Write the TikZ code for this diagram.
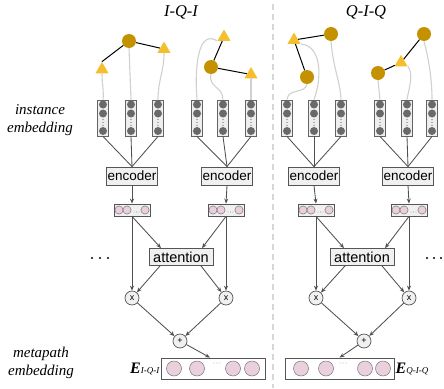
\documentclass[tikz,border=0pt]{standalone}
\usepackage{fontspec}
\setmainfont{Liberation Serif}
\newfontfamily\sansf{Liberation Sans}
\usetikzlibrary{shapes.geometric,arrows.meta}
\definecolor{qgold}{RGB}{196,146,0}
\definecolor{tyel}{RGB}{244,190,44}
\definecolor{colf}{RGB}{238,238,238}
\definecolor{colb}{RGB}{100,100,100}
\definecolor{dotg}{RGB}{105,105,105}
\definecolor{boxf}{RGB}{240,240,240}
\definecolor{boxb}{RGB}{85,85,85}
\definecolor{arrg}{RGB}{80,80,80}
\definecolor{curveg}{RGB}{208,208,208}
\definecolor{pinkf}{RGB}{233,208,220}
\definecolor{pinkb}{RGB}{120,120,120}
\definecolor{dashg}{RGB}{215,215,215}
\begin{document}
\begin{tikzpicture}[x=1pt,y=-1pt,
  colbox/.style={draw=colb,fill=colf,line width=0.9pt,minimum width=10.5pt,minimum height=36pt,inner sep=0pt},
  qnode/.style={circle,fill=qgold,minimum size=14pt,inner sep=0pt},
  tnode/.style={regular polygon,regular polygon sides=3,fill=tyel,minimum size=15pt,inner sep=0pt},
  encbox/.style={draw=boxb,fill=boxf,line width=0.8pt,minimum width=50pt,minimum height=18pt,inner sep=1pt,font=\sansf\fontsize{13.5}{14}\selectfont},
  attbox/.style={draw=boxb,fill=boxf,line width=0.8pt,minimum width=64pt,minimum height=17pt,inner sep=1pt,font=\sansf\fontsize{14.5}{15}\selectfont},
  sbox/.style={draw=boxb,fill=boxf,line width=0.8pt,minimum width=36pt,minimum height=12pt,inner sep=0pt},
  mbox/.style={draw=boxb,fill=white,line width=0.8pt,minimum height=21pt,inner sep=0pt},
  opnode/.style={circle,draw=boxb,fill=boxf,line width=0.7pt,minimum size=14pt,inner sep=0pt,font=\sansf\fontsize{9}{9}\selectfont},
  arr/.style={-{Stealth[length=5pt,width=4pt]},draw=arrg,line width=0.85pt},
  ln/.style={draw=arrg,line width=0.85pt},
  gcurve/.style={draw=curveg,line width=1.1pt},
  blk/.style={draw=black,line width=1pt},
  pinkc/.style={fill=pinkf,draw=pinkb,line width=0.5pt},
  sidelabel/.style={font=\fontsize{15}{18}\selectfont\itshape,align=center},
  title/.style={font=\fontsize{16.5}{18}\selectfont\itshape}
]
\useasboundingbox (0,0) rectangle (444,388);
% dashed separator
\coordinate (dtop) at (273,4);
\coordinate (dbot) at (273,388);
\draw[dashg,line width=1.2pt,dash pattern=on 6pt off 4pt] (dtop) -- (dbot);
% titles
\node[title] (ttl1) at (181,12) {I-Q-I};
\node[title] (ttl2) at (366,12) {Q-I-Q};
% side labels
\node[sidelabel] (lab1) at (40,120) {instance\\embedding};
\node[sidelabel] (lab2) at (41,363) {metapath\\embedding};
% columns
\foreach \i/\cx in {1/103,2/131,3/158,4/197,5/223,6/251,7/287,8/314,9/341,10/380,11/407,12/432} {
  \node[colbox] (c\i) at (\cx,118) {};
  \fill[dotg] (\cx,104.5) circle (4pt);
  \fill[dotg] (\cx,113.5) circle (4pt);
  \fill[dotg] (\cx,119.5) circle (0.6pt);
  \fill[dotg] (\cx,122.5) circle (0.6pt);
  \fill[dotg] (\cx,125.5) circle (0.6pt);
  \fill[dotg] (\cx,131) circle (4pt);
}
% top graphs
\node[qnode] (q1) at (129,41) {};
\node[tnode] (t1) at (102,69.5) {};
\node[tnode] (t2) at (164,49) {};
\node[qnode] (q2) at (211,67) {};
\node[tnode] (t3) at (224,37) {};
\node[tnode] (t4) at (251,74.5) {};
\node[qnode] (q3) at (331,34) {};
\node[qnode] (q4) at (307,77) {};
\node[tnode] (t5) at (294,40) {};
\node[qnode] (q5) at (378,73) {};
\node[tnode] (t6) at (401,62.5) {};
\node[qnode] (q6) at (424,34) {};
\draw[blk] (q1) -- (t1.corner 1);
\draw[blk] (q1) -- (t2);
\draw[blk] (q2) -- (t3);
\draw[blk] (q2) -- (t4);
\draw[blk] (t5) -- (q3);
\draw[blk] (t5) -- (q4);
\draw[blk] (q5) -- (t6);
\draw[blk] (t6) -- (q6);
% gray curves
\draw[gcurve] (t1.south) .. controls (102,85) and (104,90) .. (c1.north);
\draw[gcurve] (q1.south) -- (c2.north);
\draw[gcurve] (t2.south) .. controls (164,72) and (158,80) .. (c3.north);
\draw[gcurve] (t3.corner 2) .. controls (200,30) and (194,60) .. (c4.north);
\draw[gcurve] (q2.south) .. controls (208,88) and (223,86) .. (c5.north);
\draw[gcurve] (t4.south) -- (c6.north);
\draw[gcurve] (q4.south) .. controls (305,94) and (288,88) .. (c7.north);
\draw[gcurve] (t5.corner 3) .. controls (322,46) and (322,78) .. (c8.north);
\draw[gcurve] (q3.south) .. controls (333,68) and (340,80) .. (c9.north);
\draw[gcurve] (q5.south) -- (c10.north);
\draw[gcurve] (t6.corner 3) .. controls (414,74) and (409,88) .. (c11.north);
\draw[gcurve] (q6.south) .. controls (429,60) and (432,80) .. (c12.north);
% encoders
\node[encbox] (e1) at (132,176) {encoder};
\node[encbox] (e2) at (227,176) {encoder};
\node[encbox] (e3) at (314,176) {encoder};
\node[encbox] (e4) at (408,176) {encoder};
\foreach \c/\e in {1/1,2/1,3/1,4/2,5/2,6/2,7/3,8/3,9/3,10/4,11/4,12/4}
  \draw[ln] (c\c.south) -- (e\e.north);
% small embedding boxes
\foreach \i/\cx in {1/132,2/226,3/316,4/409} {
  \node[sbox] (s\i) at (\cx,210) {};
  \foreach \dx in {-13,-5,13} \draw[pinkc] (\cx+\dx,210) circle (4.1pt);
  \foreach \dx in {2,4.5,7} \fill[arrg] (\cx+\dx,212) circle (0.45pt);
  \draw[arr] (e\i.south) -- (s\i.north);
}
% attention
\node[attbox] (a1) at (181,257) {attention};
\node[attbox] (a2) at (362,257) {attention};
% op nodes
\node[opnode] (x1) at (132,298) {x};
\node[opnode] (x2) at (226,298) {x};
\node[opnode] (x3) at (316,298) {x};
\node[opnode] (x4) at (409,298) {x};
\node[opnode] (p1) at (180,341) {+};
\node[opnode] (p2) at (364,341) {+};
% arrows left
\draw[arr] (s1.south) -- (x1.north);
\draw[arr] (s2.south) -- (x2.north);
\draw[arr] (s1.south) -- ([xshift=-20pt]a1.north);
\draw[arr] (s2.south) -- ([xshift=21pt]a1.north);
\draw[arr] ([xshift=-21pt]a1.south) -- (x1);
\draw[arr] ([xshift=20pt]a1.south) -- (x2);
\draw[arr] (x1) -- (p1);
\draw[arr] (x2) -- (p1);
% arrows right
\draw[arr] (s3.south) -- (x3.north);
\draw[arr] (s4.south) -- (x4.north);
\draw[arr] (s3.south) -- ([xshift=-18pt]a2.north);
\draw[arr] (s4.south) -- ([xshift=23pt]a2.north);
\draw[arr] ([xshift=-17pt]a2.south) -- (x3);
\draw[arr] ([xshift=20pt]a2.south) -- (x4);
\draw[arr] (x3) -- (p2);
\draw[arr] (x4) -- (p2);
% metapath boxes
\node[mbox,minimum width=104pt] (m1) at (213,368.5) {};
\node[mbox,minimum width=109pt] (m2) at (339.5,368.5) {};
\foreach \cx in {174,197,233,252} \draw[pinkc] (\cx,368.5) circle (7.5pt);
\foreach \cx in {301,326,365,383} \draw[pinkc] (\cx,368.5) circle (7.5pt);
\foreach \cx in {214,217,220} \fill[arrg] (\cx,363) circle (0.45pt);
\foreach \cx in {340,343,346} \fill[arrg] (\cx,363) circle (0.45pt);
\draw[arr] (p1) -- ([xshift=-3pt]m1.north);
\draw[arr] (p2) -- (m2.north);
% E labels
\node[anchor=east,inner sep=1pt] (E1) at (m1.west) {\fontsize{16}{16}\selectfont\bfseries\itshape E\fontsize{9}{9}\selectfont\mdseries\itshape I-Q-I};
\node[anchor=west,inner sep=1pt] (E2) at (m2.east) {\fontsize{16}{16}\selectfont\bfseries\itshape E\fontsize{9}{9}\selectfont\mdseries\itshape Q-I-Q};
% ellipsis dots
\foreach \cx in {92,100,108} \fill[black] (\cx,258) circle (1.1pt);
\foreach \cx in {427,434,441} \fill[black] (\cx,258) circle (1.1pt);
\end{tikzpicture}
\end{document}
